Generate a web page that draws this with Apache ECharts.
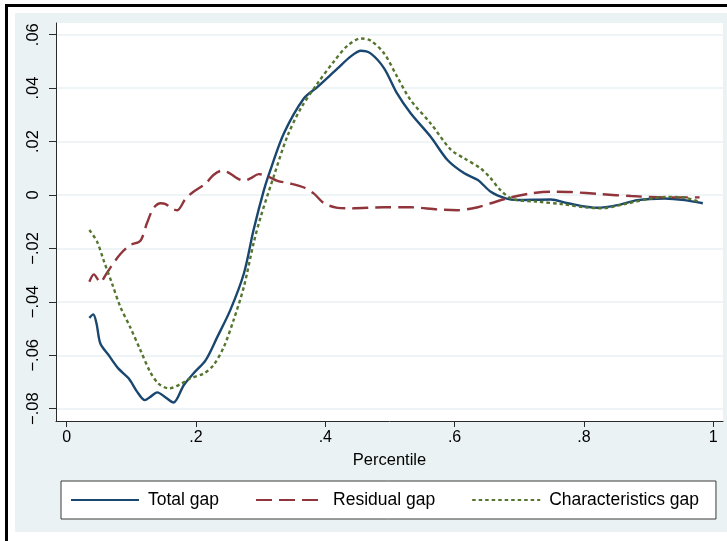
<!DOCTYPE html>
<html>
<head>
<meta charset="utf-8">
<script src="https://cdn.jsdelivr.net/npm/echarts@6/dist/echarts.min.js"></script>
<style>
  html, body { margin: 0; padding: 0; background: #ffffff; }
  body { width: 727px; height: 541px; position: relative; overflow: hidden; }
  #frameL { position: absolute; left: 5px; top: 4px; width: 3px; height: 537px; background: #000; }
  #frameT { position: absolute; left: 5px; top: 4px; width: 722px; height: 3px; background: #000; }
  #chart { position: absolute; left: 15px; top: 13px; width: 712px; height: 519px; }
</style>
</head>
<body>
<div id="frameL"></div>
<div id="frameT"></div>
<div id="chart"></div>
<script>
// ---- data ----
const seriesNames = ['Total gap', 'Residual gap', 'Characteristics gap'];

const xTickValues = [0, 0.2, 0.4, 0.6, 0.8, 1];
const xTickLabels = ['0', '.2', '.4', '.6', '.8', '1'];
const yTickValues = [-0.08, -0.06, -0.04, -0.02, 0, 0.02, 0.04, 0.06];
const yTickLabels = ['\u2212.08', '\u2212.06', '\u2212.04', '\u2212.02', '0', '.02', '.04', '.06'];

const totalX = [0.035, 0.041, 0.046, 0.052, 0.065, 0.080, 0.096, 0.109, 0.121, 0.129, 0.140, 0.153, 0.165,
  0.181, 0.196, 0.215, 0.233, 0.253, 0.274, 0.289, 0.305, 0.315, 0.336, 0.367, 0.388, 0.419, 0.439, 0.455,
  0.470, 0.491, 0.511, 0.532, 0.563, 0.589, 0.615, 0.636, 0.656, 0.679, 0.697, 0.749, 0.775, 0.821, 0.852,
  0.883, 0.925, 0.956, 0.984];
const totalY = [-0.0460, -0.0447, -0.0480, -0.0556, -0.0600, -0.0650, -0.0687, -0.0737, -0.0768, -0.0756,
  -0.0739, -0.0758, -0.0777, -0.0712, -0.0668, -0.0618, -0.0531, -0.0431, -0.0294, -0.0131, 0.0018, 0.0093,
  0.0231, 0.0362, 0.0405, 0.0474, 0.0518, 0.0540, 0.0530, 0.0474, 0.0380, 0.0306, 0.0218, 0.0131, 0.0081,
  0.0056, 0.0012, -0.0013, -0.0019, -0.0017, -0.0031, -0.0048, -0.0038, -0.0019, -0.0013, -0.0019, -0.0031];

const residualX = [0.035, 0.042, 0.052, 0.060, 0.070, 0.083, 0.098, 0.114, 0.124, 0.134, 0.145, 0.153, 0.163,
  0.171, 0.184, 0.196, 0.215, 0.227, 0.240, 0.251, 0.264, 0.274, 0.284, 0.297, 0.310, 0.326, 0.346, 0.367,
  0.382, 0.398, 0.419, 0.439, 0.491, 0.532, 0.573, 0.604, 0.636, 0.656, 0.687, 0.718, 0.749, 0.780, 0.827,
  0.873, 0.925, 0.979];
const residualY = [-0.0325, -0.0297, -0.0327, -0.0300, -0.0263, -0.0221, -0.0188, -0.0171, -0.0106, -0.0050,
  -0.0031, -0.0034, -0.0052, -0.0057, -0.0013, 0.0012, 0.0043, 0.0075, 0.0091, 0.0083, 0.0062, 0.0053, 0.0062,
  0.0078, 0.0071, 0.0053, 0.0043, 0.0028, 0.0006, -0.0031, -0.0048, -0.0050, -0.0046, -0.0046, -0.0054,
  -0.0057, -0.0046, -0.0031, -0.0009, 0.0006, 0.0012, 0.0011, 0.0003, -0.0004, -0.0009, -0.0009];

const charX = [0.035, 0.047, 0.057, 0.070, 0.083, 0.098, 0.114, 0.129, 0.142, 0.158, 0.176, 0.191, 0.212,
  0.227, 0.243, 0.258, 0.274, 0.289, 0.300, 0.320, 0.341, 0.362, 0.388, 0.413, 0.434, 0.455, 0.470, 0.491,
  0.511, 0.532, 0.563, 0.594, 0.615, 0.640, 0.655, 0.671, 0.690, 0.728, 0.765, 0.801, 0.827, 0.863, 0.904,
  0.930, 0.956, 0.979];
const charY = [-0.0131, -0.0175, -0.0244, -0.0331, -0.0419, -0.0494, -0.0581, -0.0662, -0.0706, -0.0724,
  -0.0708, -0.0687, -0.0668, -0.0637, -0.0569, -0.0469, -0.0344, -0.0181, -0.0082, 0.0068, 0.0218, 0.0324,
  0.0418, 0.0499, 0.0558, 0.0586, 0.0578, 0.0530, 0.0443, 0.0355, 0.0268, 0.0170, 0.0137, 0.0100, 0.0065,
  0.0018, -0.0015, -0.0025, -0.0034, -0.0046, -0.0050, -0.0034, -0.0013, -0.0007, -0.0010, -0.0025];

// ---- chart ----
function pairs(xs, ys) { return xs.map((x, i) => [x, ys[i]]); }
function lookup(vals, labels) {
  return function (v) {
    for (let i = 0; i < vals.length; i++) if (Math.abs(v - vals[i]) < 1e-9) return labels[i];
    return '';
  };
}
const FONT = '"Liberation Sans", Arial, Helvetica, sans-serif';
const axisColor = '#2a2a2a';

const chart = echarts.init(document.getElementById('chart'), null, { renderer: 'canvas' });
chart.setOption({
  backgroundColor: '#eaf2f3',
  animation: false,
  textStyle: { fontFamily: FONT, color: '#000' },
  grid: { left: 41, right: 4, top: 10, bottom: 111, show: true, backgroundColor: '#ffffff', borderWidth: 0 },
  xAxis: {
    type: 'value', min: -0.0166, max: 1.0152,
    name: 'Percentile', nameLocation: 'middle', nameGap: 31,
    nameTextStyle: { fontFamily: FONT, fontSize: 16.5, color: '#000' },
    axisLine: { show: true, onZero: false, lineStyle: { color: axisColor, width: 1 } },
    axisTick: { show: true, length: 6, customValues: xTickValues, lineStyle: { color: axisColor } },
    axisLabel: { customValues: xTickValues, formatter: lookup(xTickValues, xTickLabels),
      fontFamily: FONT, fontSize: 16, color: '#000', margin: 9, showMinLabel: true, showMaxLabel: true },
    splitLine: { show: false }
  },
  yAxis: {
    type: 'value', min: -0.0846, max: 0.06438,
    axisLine: { show: true, onZero: false, lineStyle: { color: axisColor, width: 1 } },
    axisTick: { show: true, length: 7, customValues: yTickValues, lineStyle: { color: axisColor } },
    axisLabel: { customValues: yTickValues, formatter: lookup(yTickValues, yTickLabels), rotate: 90,
      fontFamily: FONT, fontSize: 16.5, color: '#000', margin: 14, showMinLabel: true, showMaxLabel: true },
    splitLine: { show: true, lineStyle: { color: '#eaf2f3', width: 1.5 } }
  },
  legend: {
    data: seriesNames,
    left: 46, top: 468,
    orient: 'horizontal',
    backgroundColor: '#ffffff', borderColor: '#3a3a3a', borderWidth: 1, borderRadius: 0,
    padding: [10, 17, 10, 9],
    itemWidth: 68, itemHeight: 14, itemGap: 36,
    itemStyle: { opacity: 0, color: 'rgba(0,0,0,0)', borderColor: 'rgba(0,0,0,0)', borderWidth: 0 },
    textStyle: { fontFamily: FONT, fontSize: 17.5, color: '#000', padding: [0, 0, 0, 4] }
  },
  series: [
    { name: seriesNames[0], type: 'line', data: pairs(totalX, totalY), showSymbol: false, symbol: 'none',
      smooth: 0.3, color: '#1a476f', lineStyle: { color: '#1a476f', width: 2.4 } },
    { name: seriesNames[1], type: 'line', data: pairs(residualX, residualY), showSymbol: false, symbol: 'none',
      smooth: 0.3, color: '#90353b', lineStyle: { color: '#90353b', width: 2.4, type: [16, 7] } },
    { name: seriesNames[2], type: 'line', data: pairs(charX, charY), showSymbol: false, symbol: 'none',
      smooth: 0.3, color: '#55752f', lineStyle: { color: '#55752f', width: 2.4, type: [3.5, 3] } }
  ]
});
</script>
</body>
</html>
